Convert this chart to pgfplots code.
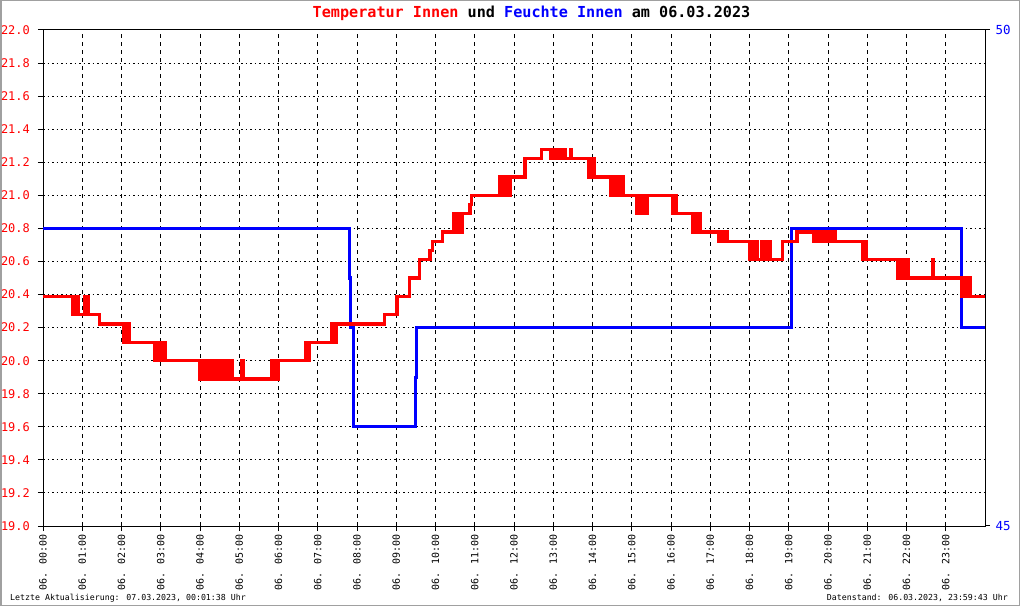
\documentclass[border=0pt]{standalone}
\usepackage{pgfplots}
\pgfplotsset{compat=1.18}
\usepackage{fontspec}
\newfontfamily\mono{DejaVu Sans Mono}
\definecolor{framegray}{RGB}{160,160,160}

% Temperatur Innen (left axis)
\pgfplotstableread{
t T
0 20.389
0.76 20.278
0.84 20.389
0.90 20.278
1.07 20.389
1.15 20.278
1.43 20.222
2.04 20.111
2.08 20.222
2.12 20.111
2.17 20.222
2.21 20.111
2.85 20.0
2.90 20.111
2.95 20.0
3.00 20.111
3.05 20.0
3.10 20.111
3.13 20.0
4.00 19.889
4.05 20.0
4.10 19.889
4.15 20.0
4.20 19.889
4.28 20.0
4.33 19.889
4.40 20.0
4.45 19.889
4.52 20.0
4.57 19.889
4.65 20.0
4.70 19.889
4.78 20.0
4.82 19.889
5.05 20.0
5.10 19.889
5.83 20.0
5.87 19.889
5.92 20.0
5.96 19.889
6.01 20.0
6.70 20.111
6.74 20.0
6.78 20.111
7.36 20.222
7.43 20.111
7.47 20.222
8.71 20.278
9.02 20.389
9.33 20.5
9.60 20.611
9.86 20.667
9.92 20.722
10.17 20.778
10.45 20.889
10.50 20.778
10.55 20.889
10.60 20.778
10.68 20.889
10.88 20.944
10.92 21.0
11.64 21.111
11.68 21.0
11.72 21.111
11.76 21.0
11.80 21.111
11.84 21.0
11.90 21.111
12.28 21.222
12.69 21.278
12.92 21.222
12.98 21.278
13.04 21.222
13.10 21.278
13.16 21.222
13.22 21.278
13.30 21.222
13.43 21.278
13.46 21.222
13.89 21.111
13.93 21.222
13.97 21.111
14.01 21.222
14.06 21.111
14.47 21.0
14.52 21.111
14.57 21.0
14.62 21.111
14.67 21.0
14.72 21.111
14.78 21.0
15.13 20.889
15.18 21.0
15.24 20.889
15.30 21.0
15.34 20.889
15.41 21.0
16.05 20.889
16.09 21.0
16.13 20.889
16.56 20.778
16.60 20.889
16.65 20.778
16.70 20.889
16.74 20.778
17.20 20.722
17.25 20.778
17.30 20.722
17.35 20.778
17.43 20.722
17.99 20.611
18.03 20.722
18.07 20.611
18.12 20.722
18.19 20.611
18.30 20.722
18.34 20.611
18.40 20.722
18.44 20.611
18.50 20.722
18.54 20.611
18.85 20.722
19.21 20.778
19.62 20.722
19.66 20.778
19.72 20.722
19.78 20.778
19.84 20.722
19.90 20.778
19.96 20.722
20.02 20.778
20.08 20.722
20.14 20.778
20.18 20.722
20.87 20.611
20.92 20.722
20.97 20.611
21.76 20.5
21.80 20.611
21.85 20.5
21.90 20.611
21.95 20.5
22.00 20.611
22.05 20.5
22.66 20.611
22.69 20.5
23.41 20.389
23.45 20.5
23.50 20.389
23.55 20.5
23.62 20.389
24.0 20.389
}\temp

% Feuchte Innen (right axis)
\pgfplotstableread{
t H
0 48
7.80 47.5
7.83 47
7.90 46
9.48 46.5
9.52 47
19.08 48
23.41 47
24 47
}\hum

\begin{document}
\begin{tikzpicture}
\useasboundingbox (0bp,0bp) rectangle (1020bp,606bp);
\draw[framegray, line width=1.5bp] (0.75bp,0.75bp) rectangle (1019.25bp,605.25bp);

\pgfplotsset{base/.style={
  width=942bp, height=496bp, scale only axis,
  at={(43bp,80bp)}, anchor=south west,
  xmin=0, xmax=24,
  /pgf/number format/assume math mode=true,
}}

% frame, grid and left ticks
\begin{axis}[base,
  ymin=19, ymax=22,
  ytick={19.0,19.2,19.4,19.6,19.8,20.0,20.2,20.4,20.6,20.8,21.0,21.2,21.4,21.6,21.8,22.0},
  yticklabel style={red, font=\mono\fontsize{12}{14}\selectfont,
    anchor=east, inner xsep=0pt, xshift=-8bp,
    /pgf/number format/.cd, fixed, fixed zerofill, precision=1},
  xtick={0,...,23},
  xticklabels={06. 00:00,06. 01:00,06. 02:00,06. 03:00,06. 04:00,06. 05:00,
    06. 06:00,06. 07:00,06. 08:00,06. 09:00,06. 10:00,06. 11:00,06. 12:00,
    06. 13:00,06. 14:00,06. 15:00,06. 16:00,06. 17:00,06. 18:00,06. 19:00,
    06. 20:00,06. 21:00,06. 22:00,06. 23:00},
  xticklabel style={font=\mono\fontsize{10}{10}\selectfont, rotate=90, anchor=east},
  xtick pos=bottom, ytick pos=left,
  tick align=outside, major tick length=5bp,
  tick style={black, line width=1bp},
  axis line style={line width=1bp},
  grid=major,
  x grid style={black, line width=1bp, dash pattern=on 4bp off 4bp},
  y grid style={black, line width=1bp, dash pattern=on 1.5bp off 3bp},
]
\end{axis}

% Feuchte
\begin{axis}[base,
  ymin=45, ymax=50,
  axis x line=none, axis y line*=right,
  ytick={45,50},
  yticklabel style={blue, font=\mono\fontsize{12.5}{14}\selectfont, xshift=2bp},
  tick align=outside, major tick length=5bp,
  tick style={black, line width=1bp},
  axis line style={line width=1bp},
]
\addplot[blue, line width=3.1bp, const plot, line join=miter] table[x=t, y=H] {\hum};
\end{axis}

% Temperatur
\begin{axis}[base, ymin=19, ymax=22, hide axis]
\addplot[red, line width=3.1bp, const plot, line join=miter] table[x=t, y=T] {\temp};
\end{axis}

\node[anchor=base, font=\mono\bfseries\fontsize{15.2}{16}\selectfont] at (531.5bp,588bp)
  {\textcolor{red}{Temperatur Innen} und \textcolor{blue}{Feuchte Innen} am 06.03.2023};
\node[anchor=base west, inner sep=0, font=\mono\fontsize{8.3}{9}\selectfont] at (10bp,5.5bp)
  {Letzte Aktualisierung: 07.03.2023, 00:01:38 Uhr};
\node[anchor=base east, inner sep=0, font=\mono\fontsize{8.3}{9}\selectfont] at (1008bp,5.5bp)
  {Datenstand: 06.03.2023, 23:59:43 Uhr};
\end{tikzpicture}
\end{document}
